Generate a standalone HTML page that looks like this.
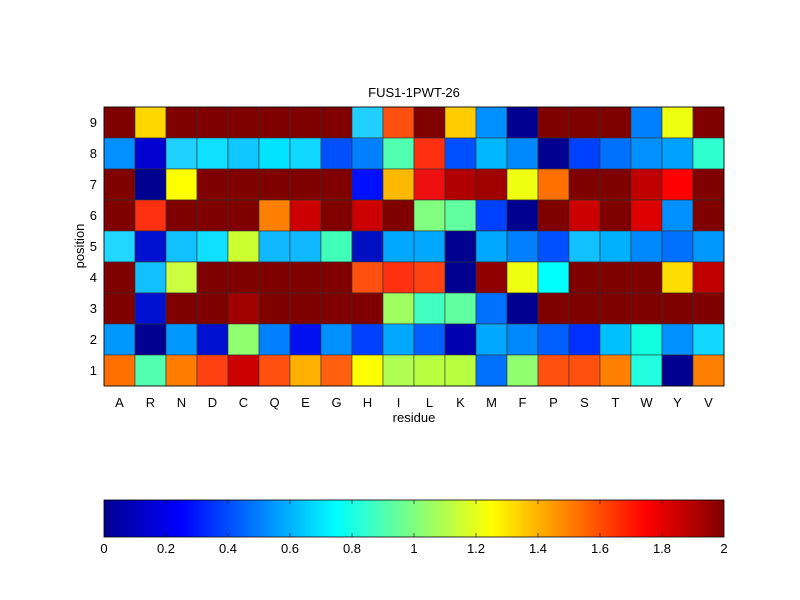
<!DOCTYPE html>
<html><head><style>body{margin:0;background:#fff}svg{display:block}text{font-family:"Liberation Sans",Arial,sans-serif;font-size:13px;fill:#000}</style></head>
<body>
<svg width="800" height="600" xmlns="http://www.w3.org/2000/svg">
<defs><linearGradient id="jet" x1="0" x2="1" y1="0" y2="0">
<stop offset="0" stop-color="#00008f"/><stop offset="0.125" stop-color="#0000ff"/><stop offset="0.375" stop-color="#00ffff"/><stop offset="0.625" stop-color="#ffff00"/><stop offset="0.875" stop-color="#ff0000"/><stop offset="1" stop-color="#800000"/></linearGradient></defs>
<rect width="800" height="600" fill="#fff"/>
<g id="grid" stroke="#333" stroke-width="0.6"></g>
<text x="414" y="97" text-anchor="middle">FUS1-1PWT-26</text>
<g id="lab"></g>
<text x="414" y="422" text-anchor="middle">residue</text>
<text transform="translate(84,246) rotate(-90)" text-anchor="middle">position</text>
<rect x="104" y="500" width="620" height="37" fill="url(#jet)" stroke="#000" stroke-width="0.8"/>
<g id="cb"></g>
</svg>
<script>
var d='#800000';
var rows=[
[d,'#ffd700',d,d,d,d,d,d,'#20d0ff','#ff5010',d,'#ffcc00','#0090ff','#000090',d,d,d,'#0080ff','#eeff10',d],
['#0090ff','#0000d0','#20d0ff','#10e0ff','#10c8ff','#00e4ff','#10d8ff','#0050ff','#0080ff','#50ffb0','#ff3010','#0050ff','#00b8ff','#0088ff','#000090','#0040ff','#0070ff','#0090ff','#00a0ff','#30ffd0'],
[d,'#000090','#ffff00',d,d,d,d,d,'#0010ff','#ffb800','#ee1010','#b00000','#a00000','#eeff10','#ff7000',d,d,'#c00000','#ff0000',d],
[d,'#ff3010',d,d,d,'#ff8000','#cc0000',d,'#cc0000',d,'#80ff80','#60ffa0','#0040ff','#000090',d,'#cc0000',d,'#dd0000','#0090ff',d],
['#20d8ff','#0010d0','#10c0ff','#10e0ff','#ccff30','#10b8ff','#10b8ff','#40ffb8','#0010c0','#00a8ff','#00a8ff','#000090','#00a8ff','#0080ff','#0050ff','#10c0ff','#00b0ff','#0088ff','#0070ff','#0098ff'],
[d,'#10c0ff','#ccff40',d,d,d,d,d,'#ff5010','#ff3010','#ff4010','#000090','#900000','#eeff10','#00ffff',d,d,d,'#ffdd00','#c00000'],
[d,'#0010d0',d,d,'#a00000',d,d,d,d,'#a0ff60','#40ffc0','#60ffa0','#0070ff','#000090',d,d,d,d,d,d],
['#0098ff','#000090','#0098ff','#0010d0','#90ff70','#0080ff','#0010f0','#0090ff','#0040ff','#00a8ff','#0060ff','#0000b0','#00a8ff','#0088ff','#0060ff','#0030ff','#00c0ff','#10ffe0','#0090ff','#10d8ff'],
['#ff7000','#50ffb0','#ff7c00','#ff4010','#cc0000','#ff5010','#ffb000','#ff6010','#ffff00','#b0ff50','#b8ff40','#b8ff40','#0070ff','#90ff70','#ff5010','#ff5010','#ff8000','#20ffe0','#000090','#ff8000']];
var ns='http://www.w3.org/2000/svg',g=document.getElementById('grid'),lab=document.getElementById('lab'),cb=document.getElementById('cb');
var x0=104,y0=107,cw=31,ch=31;
function el(p,t,a,tx){var e=document.createElementNS(ns,t);for(var k in a)e.setAttribute(k,a[k]);if(tx)e.textContent=tx;p.appendChild(e);}
rows.forEach(function(r,i){r.forEach(function(c,j){el(g,'rect',{x:x0+j*cw,y:y0+i*ch,width:cw,height:ch,fill:c});});});
el(g,'rect',{x:x0,y:y0,width:620,height:279,fill:'none',stroke:'#000','stroke-width':0.8});
var res='ARNDCQEGHILKMFPSTWYV';
for(var j=0;j<20;j++)el(lab,'text',{x:x0+j*cw+15.5,y:407,'text-anchor':'middle'},res[j]);
for(var i=0;i<9;i++)el(lab,'text',{x:97,y:y0+i*ch+20,'text-anchor':'end'},String(9-i));
var tl=['0','0.2','0.4','0.6','0.8','1','1.2','1.4','1.6','1.8','2'];
for(var k=0;k<=10;k++){var x=104+k*62;el(cb,'text',{x:x,y:553,'text-anchor':'middle'},tl[k]);
if(k>0&&k<10){el(cb,'line',{x1:x,x2:x,y1:500,y2:504,stroke:'#000','stroke-width':0.6});el(cb,'line',{x1:x,x2:x,y1:533,y2:537,stroke:'#000','stroke-width':0.6});}}
</script>
</body></html>
